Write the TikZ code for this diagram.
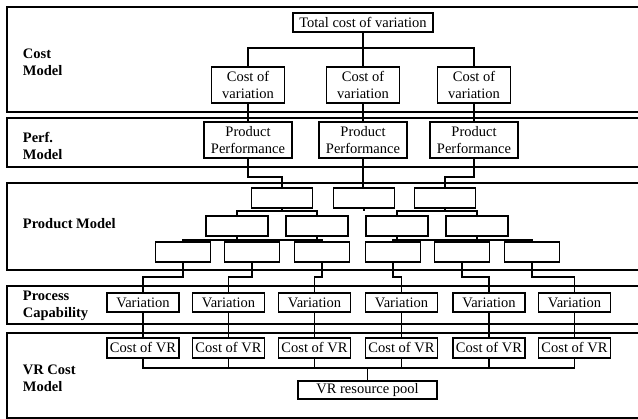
\documentclass[tikz,border=0pt]{standalone}
\usepackage{fontspec}
\setmainfont{Liberation Serif}

\begin{document}
\begin{tikzpicture}[x=1pt, y=-1pt, line width=1.2pt,
    every node/.style={font=\fontsize{14.5}{17}\selectfont},
    box/.style={draw, fill=white, inner sep=0pt, align=center},
    layer/.style={font=\fontsize{14.5}{17}\selectfont\bfseries, align=left, anchor=west}]
    \useasboundingbox (0,0) rectangle (638,419);

    % the five model bands, open to the right
    \draw (638,7) -| (7,112) -- (638,112);
    \draw (638,118) -| (7,167) -- (638,167);
    \draw (638,183) -| (7,270) -- (638,270);
    \draw (638,286) -| (7,324) -- (638,324);
    \draw (638,333) -| (7,418) -- (638,418);

    \node[layer] (lbl-cost) at (19,62) {Cost\\Model};
    \node[layer] (lbl-perf) at (19,145.5) {Perf.\\Model};
    \node[layer] (lbl-prod) at (19,224) {Product Model};
    \node[layer] (lbl-proc) at (19,305.5) {Process\\Capability};
    \node[layer] (lbl-vr) at (19,378) {VR Cost\\Model};

    \coordinate (top-bus) at (363,48);
    \coordinate (perf-bus) at (0,177);
    \coordinate (bus1) at (0,211);
    \coordinate (bus2) at (0,240);
    \coordinate (var-bus) at (0,277);
    \coordinate (pool-bus) at (0,368);

    \node[box, minimum width=140, minimum height=19] (total) at (363,22.5) {Total cost of variation};

    \node[box, minimum width=73, minimum height=36] (cost1) at (248,85) {Cost of\\variation};
    \node[box, minimum width=73, minimum height=36] (cost2) at (363,85) {Cost of\\variation};
    \node[box, minimum width=73, minimum height=36] (cost3) at (474,85) {Cost of\\variation};

    \node[box, minimum width=88, minimum height=36] (perf1) at (248,140) {Product\\Performance};
    \node[box, minimum width=88, minimum height=36] (perf2) at (363,140) {Product\\Performance};
    \node[box, minimum width=88, minimum height=36] (perf3) at (474,140) {Product\\Performance};

    \node[box, minimum width=61, minimum height=20] (pa1) at (282,198) {};
    \node[box, minimum width=61, minimum height=20] (pa2) at (364,198) {};
    \node[box, minimum width=61, minimum height=20] (pa3) at (445,198) {};

    \node[box, minimum width=62, minimum height=20] (pb1) at (237,226) {};
    \node[box, minimum width=62, minimum height=20] (pb2) at (317,226) {};
    \node[box, minimum width=62, minimum height=20] (pb3) at (397,226) {};
    \node[box, minimum width=62, minimum height=20] (pb4) at (477,226) {};

    \node[box, minimum width=55, minimum height=20] (pc1) at (183,252) {};
    \node[box, minimum width=55, minimum height=20] (pc2) at (252,252) {};
    \node[box, minimum width=55, minimum height=20] (pc3) at (322,252) {};
    \node[box, minimum width=55, minimum height=20] (pc4) at (393,252) {};
    \node[box, minimum width=55, minimum height=20] (pc5) at (462,252) {};
    \node[box, minimum width=55, minimum height=20] (pc6) at (532,252) {};

    \node[box, minimum width=72, minimum height=19] (var1) at (143,302.5) {Variation};
    \node[box, minimum width=72, minimum height=19] (var2) at (228.5,302.5) {Variation};
    \node[box, minimum width=72, minimum height=19] (var3) at (314.5,302.5) {Variation};
    \node[box, minimum width=72, minimum height=19] (var4) at (401.5,302.5) {Variation};
    \node[box, minimum width=72, minimum height=19] (var5) at (489,302.5) {Variation};
    \node[box, minimum width=72, minimum height=19] (var6) at (574.5,302.5) {Variation};

    \node[box, minimum width=72, minimum height=20] (vr1) at (143,348) {Cost of VR};
    \node[box, minimum width=72, minimum height=20] (vr2) at (228.5,348) {Cost of VR};
    \node[box, minimum width=72, minimum height=20] (vr3) at (314.5,348) {Cost of VR};
    \node[box, minimum width=72, minimum height=20] (vr4) at (401.5,348) {Cost of VR};
    \node[box, minimum width=72, minimum height=20] (vr5) at (489,348) {Cost of VR};
    \node[box, minimum width=72, minimum height=20] (vr6) at (574.5,348) {Cost of VR};

    \node[box, minimum width=139, minimum height=18] (pool) at (367.5,390) {VR resource pool};

    \draw (total.south) -- (cost2.north);
    \draw (cost1.north) |- (cost3.north |- top-bus) -- (cost3.north);
    \draw (cost1.south) -- (perf1.north);
    \draw (cost2.south) -- (perf2.north);
    \draw (cost3.south) -- (perf3.north);

    \draw (perf1.south) |- (pa1.north |- perf-bus) -- (pa1.north);
    \draw (perf2.south) -- (perf2.south |- pa2.north);
    \draw (perf3.south) |- (pa3.north |- perf-bus) -- (pa3.north);

    \draw (pa1.south) -- (pa1.south |- bus1);
    \draw (pa2.south) -- (pa2.south |- bus1);
    \draw (pa3.south) -- (pa3.south |- bus1);
    \draw (pb1.north) |- (pb2.north |- bus1) -- (pb2.north);
    \draw (pb3.north) |- (pb4.north |- bus1) -- (pb4.north);

    \draw (pb1.south) -- (pb1.south |- bus2);
    \draw (pb2.south) -- (pb2.south |- bus2);
    \draw (pb3.south) -- (pb3.south |- bus2);
    \draw (pb4.south) -- (pb4.south |- bus2);
    \draw (pc1.north) |- (pc3.north |- bus2) -- (pc3.north);
    \draw (pc2.north) -- (pc2.north |- bus2);
    \draw (pc4.north) |- (pc6.north |- bus2) -- (pc6.north);
    \draw (pc5.north) -- (pc5.north |- bus2);

    \draw (pc1.south) |- (var1.north |- var-bus) -- (var1.north);
    \draw (pc2.south) |- (var2.north |- var-bus) -- (var2.north);
    \draw (pc3.south) |- (var3.north |- var-bus) -- (var3.north);
    \draw (pc4.south) |- (var4.north |- var-bus) -- (var4.north);
    \draw (pc5.south) |- (var5.north |- var-bus) -- (var5.north);
    \draw (pc6.south) |- (var6.north |- var-bus) -- (var6.north);

    \draw (var1.south) -- (vr1.north);
    \draw (var2.south) -- (vr2.north);
    \draw (var3.south) -- (vr3.north);
    \draw (var4.south) -- (vr4.north);
    \draw (var5.south) -- (vr5.north);
    \draw (var6.south) -- (vr6.north);

    \draw (vr1.south) |- (vr6.south |- pool-bus) -- (vr6.south);
    \draw (vr2.south) -- (vr2.south |- pool-bus);
    \draw (vr3.south) -- (vr3.south |- pool-bus);
    \draw (vr4.south) -- (vr4.south |- pool-bus);
    \draw (vr5.south) -- (vr5.south |- pool-bus);
    \draw (pool.north) -- (pool.north |- pool-bus);
\end{tikzpicture}
\end{document}
